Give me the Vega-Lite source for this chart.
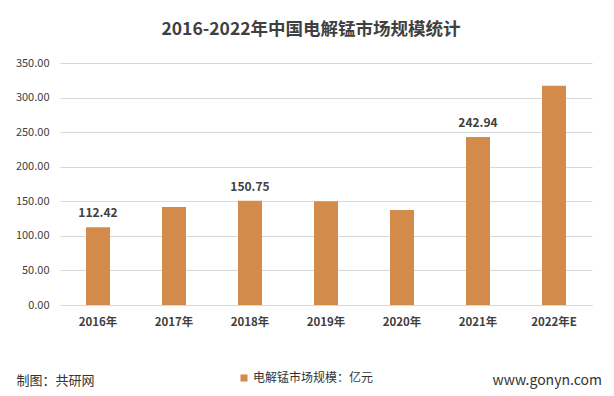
{
  "$schema": "https://vega.github.io/schema/vega-lite/v6.json",
  "autosize": {"type": "none"},
  "width": 532,
  "height": 242,
  "padding": {"left": 60, "top": 63, "right": 22, "bottom": 91},
  "background": "white",
  "config": {
    "font": "Noto Sans CJK SC",
    "view": {"stroke": null}
  },
  "title": {
    "text": "2016-2022年中国电解锰市场规模统计",
    "fontSize": 17.5,
    "fontWeight": "bold",
    "color": "#404040",
    "anchor": "middle",
    "dx": -15,
    "offset": 19
  },
  "data": {
    "values": [
      {"year": "2016年", "value": 112.42},
      {"year": "2017年", "value": 141.8},
      {"year": "2018年", "value": 150.75},
      {"year": "2019年", "value": 150.2},
      {"year": "2020年", "value": 137.5},
      {"year": "2021年", "value": 242.94},
      {"year": "2022年E", "value": 317.0}
    ]
  },
  "encoding": {
    "x": {
      "field": "year",
      "type": "nominal",
      "sort": null,
      "scale": {"paddingInner": 0.684, "paddingOuter": 0.342},
      "axis": {
        "title": "制图：共研网",
        "titleFontSize": 13,
        "titleFontWeight": "normal",
        "titleColor": "#333333",
        "titleAnchor": "start",
        "titleAlign": "left",
        "titleBaseline": "middle",
        "titleX": -44,
        "titleY": 75,
        "labelAngle": 0,
        "labelFontSize": 11.5,
        "labelFontWeight": "bold",
        "labelColor": "#404040",
        "labelPadding": 11,
        "ticks": false,
        "domainColor": "#D9D9D9"
      }
    },
    "y": {
      "field": "value",
      "type": "quantitative",
      "scale": {"domain": [0, 350], "nice": false},
      "axis": {
        "values": [0, 50, 100, 150, 200, 250, 300, 350],
        "labelOverlap": false,
        "labelFlush": false,
        "format": ".2f",
        "title": "www.gonyn.com",
        "titleAngle": 0,
        "titleFontSize": 14,
        "titleFontWeight": "normal",
        "titleColor": "#333333",
        "titleAlign": "left",
        "titleBaseline": "middle",
        "titleX": 432,
        "titleY": 317,
        "labelFontSize": 11,
        "labelColor": "#404040",
        "labelPadding": 11,
        "ticks": false,
        "domain": false,
        "gridColor": "#D9D9D9"
      }
    }
  },
  "layer": [
    {
      "mark": {"type": "bar", "color": "#D38B4C"},
      "encoding": {
        "color": {
          "datum": "电解锰市场规模：亿元",
          "scale": {"range": ["#D38B4C"]},
          "legend": {
            "title": null,
            "orient": "none",
            "legendX": 178,
            "legendY": 309,
            "symbolType": "square",
            "symbolSize": 50,
            "labelFontSize": 12,
            "labelColor": "#333333",
            "labelOffset": 3
          }
        }
      }
    },
    {
      "transform": [{"filter": {"field": "year", "oneOf": ["2016年", "2018年", "2021年"]}}],
      "mark": {"type": "text", "dy": -14, "fontSize": 12, "fontWeight": "bold", "color": "#404040"},
      "encoding": {
        "text": {"field": "value", "type": "quantitative", "format": ".2f"}
      }
    }
  ]
}
